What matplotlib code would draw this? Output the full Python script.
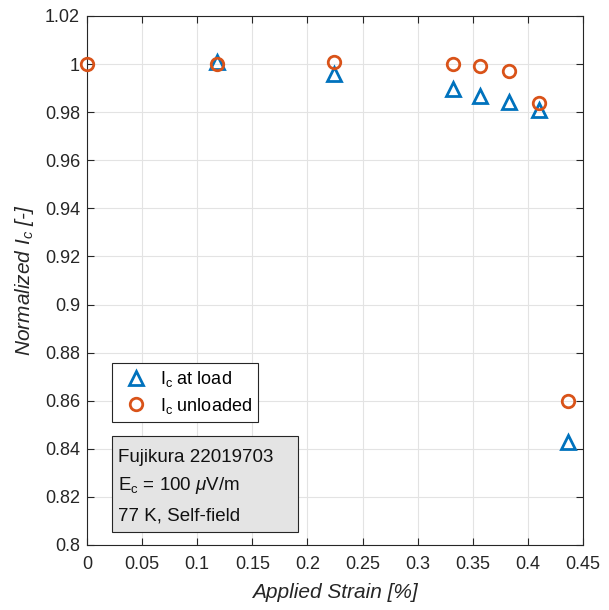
import matplotlib
matplotlib.use("Agg")
import matplotlib.pyplot as plt
from matplotlib.patches import Rectangle

plt.rcParams['font.family'] = ['Liberation Sans', 'DejaVu Sans']
plt.rcParams['mathtext.fontset'] = 'custom'
plt.rcParams['mathtext.rm'] = 'Liberation Sans'
plt.rcParams['mathtext.it'] = 'Liberation Sans:italic'

# Strain values [%]
strain_load = [0.118, 0.224, 0.332, 0.357, 0.383, 0.410, 0.436]
ic_load = [1.0008, 0.9958, 0.9896, 0.9867, 0.9842, 0.9809, 0.8430]

strain_unload = [0.0, 0.118, 0.224, 0.332, 0.357, 0.383, 0.410, 0.436]
ic_unload = [1.0, 1.0, 1.0007, 1.0, 0.9992, 0.9970, 0.9840, 0.8600]

xticks = [0, 0.05, 0.1, 0.15, 0.2, 0.25, 0.3, 0.35, 0.4, 0.45]
xticklabels = ['0', '0.05', '0.1', '0.15', '0.2', '0.25', '0.3', '0.35', '0.4', '0.45']
yticks = [0.8, 0.82, 0.84, 0.86, 0.88, 0.9, 0.92, 0.94, 0.96, 0.98, 1.0, 1.02]
yticklabels = ['0.8', '0.82', '0.84', '0.86', '0.88', '0.9', '0.92', '0.94', '0.96', '0.98', '1', '1.02']

info_lines = ['Fujikura 22019703',
              r'E$_{\mathregular{c}}$ = 100 $\mu$V/m',
              '77 K, Self-field']

blue = '#0072BD'
orange = '#D95319'
ink = '#262626'

W, H = 609, 610
fig = plt.figure(figsize=(W / 100, H / 100), dpi=100)
L, R, T, B = 87, 583, 16, 545
ax = fig.add_axes([L / W, 1 - B / H, (R - L) / W, (B - T) / H])


def ax_frac(px, py):
    """Pixel position in the figure -> axes fraction."""
    return (px - L) / (R - L), 1 - (py - T) / (B - T)


ax.plot(strain_load, ic_load, linestyle='none', marker='^', markersize=10.5,
        markerfacecolor='none', markeredgecolor=blue, markeredgewidth=2,
        label=r'I$_{\mathregular{c}}$ at load', zorder=3, clip_on=False)
ax.plot(strain_unload, ic_unload, linestyle='none', marker='o', markersize=9,
        markerfacecolor='none', markeredgecolor=orange, markeredgewidth=2,
        label=r'I$_{\mathregular{c}}$ unloaded', zorder=4, clip_on=False)

ax.set_xlim(0, 0.45)
ax.set_ylim(0.8, 1.02)
ax.set_xticks(xticks)
ax.set_xticklabels(xticklabels)
ax.set_yticks(yticks)
ax.set_yticklabels(yticklabels)
ax.grid(True, color='#e3e3e3', linewidth=0.8)
ax.set_axisbelow(True)
ax.tick_params(direction='in', top=True, right=True, labelsize=13, length=5,
               width=0.8, color=ink, labelcolor=ink)
ax.tick_params(axis='x', pad=8)
ax.tick_params(axis='y', pad=5)
for s in ax.spines.values():
    s.set_color(ink)
    s.set_linewidth(0.8)

ax.set_xlabel('Applied Strain [%]', fontsize=15, style='italic', color=ink, labelpad=7)
ax.set_ylabel(r'Normalized $I_{\mathregular{c}}$ [-]', fontsize=15, style='italic',
              color=ink, labelpad=6)

leg = ax.legend(loc='upper left', bbox_to_anchor=ax_frac(112, 363), borderaxespad=0,
                fontsize=13, frameon=True, fancybox=False, edgecolor=ink,
                framealpha=1, borderpad=0.35, handletextpad=0.3, labelspacing=0.35,
                handlelength=2.0)
leg.get_frame().set_linewidth(0.8)
leg.set_zorder(7)

# Annotation box with sample information
x0, y0 = ax_frac(112, 532)
x1, y1 = ax_frac(298, 436)
ax.add_patch(Rectangle((x0, y0), x1 - x0, y1 - y0, transform=ax.transAxes,
                       facecolor='#e4e4e4', edgecolor=ink, linewidth=0.8, zorder=5))
for text, py in zip(info_lines, [455, 482, 514]):
    tx, ty = ax_frac(118, py)
    ax.text(tx, ty, text, transform=ax.transAxes, fontsize=13.5, va='center_baseline',
            ha='left', color='#111111', zorder=6)

fig.savefig('out.png', dpi=100)
